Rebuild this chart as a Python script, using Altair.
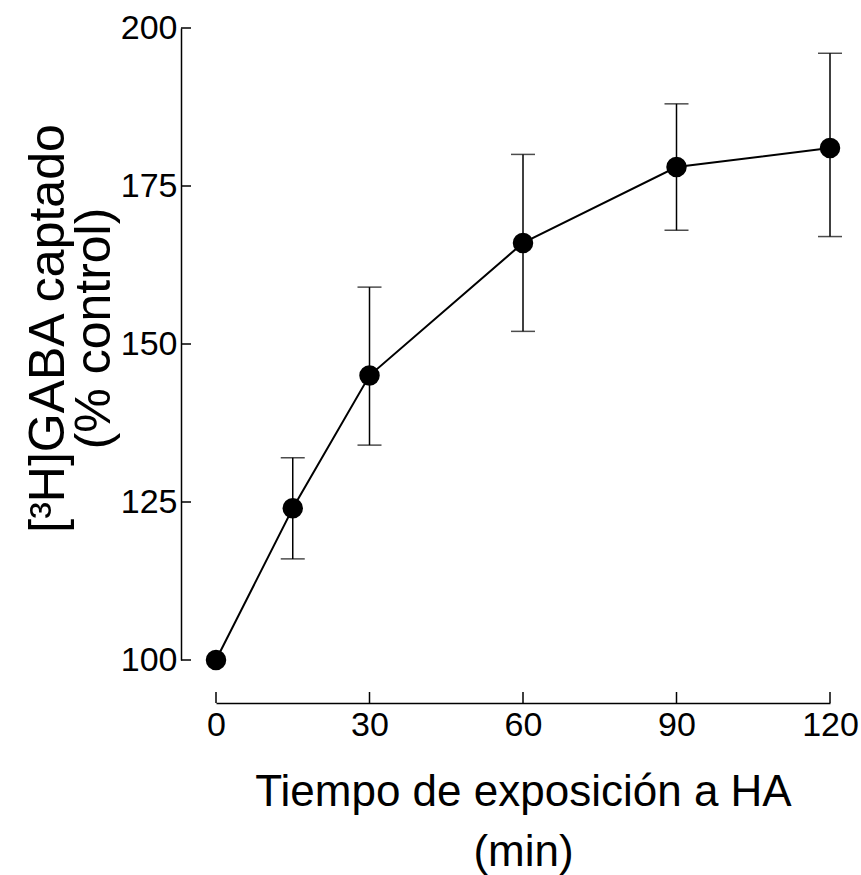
import altair as alt
import pandas as pd

# Data
time_min = [0, 15, 30, 60, 90, 120]
uptake = [100, 124, 145, 166, 178, 181]
err_low = [100, 116, 134, 152, 168, 167]
err_high = [100, 132, 159, 180, 188, 196]
x_ticks = [0, 30, 60, 90, 120]
y_ticks = [100, 125, 150, 175, 200]

df = pd.DataFrame({"t": time_min, "v": uptake, "lo": err_low, "hi": err_high})
df_err = df[df["lo"] != df["hi"]]
df_xt = pd.DataFrame({"t": x_ticks})
df_yt = pd.DataFrame({"v": y_ticks})

W, H = 614, 632
XOFF, YOFF = 43, 35
FONT = "Liberation Sans"

xscale = alt.Scale(domain=[0, 120], nice=False, zero=False)
yscale = alt.Scale(domain=[100, 200], nice=False, zero=False)

xaxis = alt.Axis(
    values=x_ticks, offset=XOFF, ticks=False, grid=False, labelFlush=False,
    domainColor="black", domainWidth=1.5,
    labelFont=FONT, labelFontSize=34, labelColor="black", labelPadding=5,
    title=["Tiempo de exposición a HA", "(min)"],
    titleFont=FONT, titleFontSize=44, titleFontWeight="normal", titleColor="black",
    titlePadding=28, titleLineHeight=60,
)
yaxis = alt.Axis(
    values=y_ticks, offset=YOFF, ticks=False, grid=False, labelFlush=False,
    domainColor="black", domainWidth=1.5,
    labelFont=FONT, labelFontSize=34, labelColor="black", labelPadding=4,
    title=["[³H]GABA captado", "(% control)"],
    titleFont=FONT, titleFontSize=50, titleFontWeight="normal", titleColor="black",
    titlePadding=1, titleLineHeight=46, titleY=300,
)

X = lambda f: alt.X(f, type="quantitative", scale=xscale, axis=xaxis)
Y = lambda f: alt.Y(f, type="quantitative", scale=yscale, axis=yaxis)

line = alt.Chart(df).mark_line(color="black", strokeWidth=2).encode(x=X("t"), y=Y("v"))

err_rule = alt.Chart(df_err).mark_rule(color="black", strokeWidth=1.5).encode(
    x=X("t"), y=Y("lo"), y2="hi"
)
cap_lo = alt.Chart(df_err).mark_tick(color="black", thickness=1.5, size=24, orient="horizontal").encode(
    x=X("t"), y=Y("lo")
)
cap_hi = alt.Chart(df_err).mark_tick(color="black", thickness=1.5, size=24, orient="horizontal").encode(
    x=X("t"), y=Y("hi")
)
pts = alt.Chart(df).mark_point(filled=True, color="black", opacity=1, size=420, shape="circle").encode(
    x=X("t"), y=Y("v")
)

# inward-pointing axis ticks
ytick_marks = alt.Chart(df_yt).mark_rule(color="black", strokeWidth=1.5).encode(
    y=Y("v"), x=alt.value(-YOFF), x2=alt.value(-YOFF + 10)
)
xtick_marks = alt.Chart(df_xt).mark_rule(color="black", strokeWidth=1.5).encode(
    x=X("t"), y=alt.value(H + XOFF - 11), y2=alt.value(H + XOFF)
)

chart = alt.layer(ytick_marks, xtick_marks, line, err_rule, cap_lo, cap_hi, pts).properties(
    width=W, height=H,
    background="white",
    autosize=alt.AutoSizeParams(type="none"),
    padding={"left": 216, "top": 28, "right": 31, "bottom": 215},
).configure_view(stroke=None, strokeWidth=0)

chart.save("out.html", embed_options={"renderer": "svg", "actions": False})
